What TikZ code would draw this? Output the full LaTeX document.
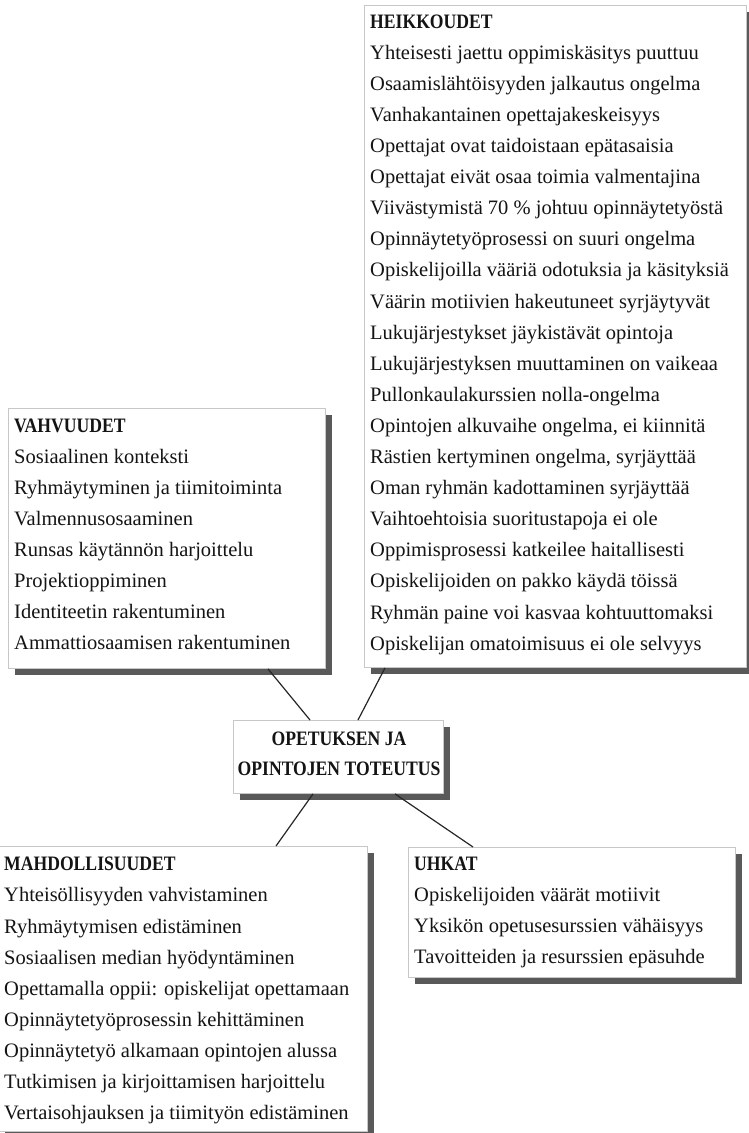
\documentclass[tikz,border=0pt]{standalone}
\usepackage{fontspec}
\setmainfont{Liberation Serif}
\newfontfamily\titlefont[FakeStretch=0.86]{Liberation Serif}
\usetikzlibrary{shadows}
\begin{document}
\begin{tikzpicture}[x=1pt,y=-1pt,
  box/.style={draw=black!22, line width=0.9pt, fill=white, inner sep=0pt, anchor=north west,
    drop shadow={shadow xshift=7pt, shadow yshift=-7pt, fill=black!65, opacity=1}},
  listtext/.style={anchor=north west, inner sep=0pt, align=left, text=black!92,
    font=\fontsize{20.5}{31.1}\selectfont},
  centertext/.style={anchor=north, inner sep=0pt, align=center, text=black!92,
    font=\titlefont\bfseries\fontsize{20.5}{30}\selectfont},
  link/.style={draw=black!85, line width=1.2pt}]
\useasboundingbox (0,0) rectangle (748,1133);

% boxes
\node[box, minimum width=382, minimum height=662] (heikbox) at (364,5) {};
\node[box, minimum width=317, minimum height=260] (vahbox) at (8,408) {};
\node[box, minimum width=210, minimum height=73] (centerbox) at (233,720) {};
\node[box, minimum width=369, minimum height=285] (mahdbox) at (-2,846) {};
\node[box, minimum width=327, minimum height=130] (uhkabox) at (408,847) {};

% texts
\node[listtext] (heiktext) at (370,6.2) {\strut{\titlefont\bfseries HEIKKOUDET}\\
Yhteisesti jaettu oppimiskäsitys puuttuu\\
Osaamislähtöisyyden jalkautus ongelma\\
Vanhakantainen opettajakeskeisyys\\
Opettajat ovat taidoistaan epätasaisia\\
Opettajat eivät osaa toimia valmentajina\\
Viivästymistä 70 \% johtuu opinnäytetyöstä\\
Opinnäytetyöprosessi on suuri ongelma\\
Opiskelijoilla vääriä odotuksia ja käsityksiä\\
Väärin motiivien hakeutuneet syrjäytyvät\\
Lukujärjestykset jäykistävät opintoja\\
Lukujärjestyksen muuttaminen on vaikeaa\\
Pullonkaulakurssien nolla-ongelma\\
Opintojen alkuvaihe ongelma, ei kiinnitä\\
Rästien kertyminen ongelma, syrjäyttää\\
Oman ryhmän kadottaminen syrjäyttää\\
Vaihtoehtoisia suoritustapoja ei ole\\
Oppimisprosessi katkeilee haitallisesti\\
Opiskelijoiden on pakko käydä töissä\\
Ryhmän paine voi kasvaa kohtuuttomaksi\\
Opiskelijan omatoimisuus ei ole selvyys};

\node[listtext] (vahtext) at (14,410.2) {\strut{\titlefont\bfseries VAHVUUDET}\\
Sosiaalinen konteksti\\
Ryhmäytyminen ja tiimitoiminta\\
Valmennusosaaminen\\
Runsas käytännön harjoittelu\\
Projektioppiminen\\
Identiteetin rakentuminen\\
Ammattiosaamisen rakentuminen};

\node[centertext] (centertext) at (339,724) {\strut OPETUKSEN JA\\ OPINTOJEN TOTEUTUS};

\node[listtext] (mahdtext) at (4,848.9) {\strut{\titlefont\bfseries MAHDOLLISUUDET}\\
Yhteisöllisyyden vahvistaminen\\
Ryhmäytymisen edistäminen\\
Sosiaalisen median hyödyntäminen\\
Opettamalla oppii: opiskelijat opettamaan\\
Opinnäytetyöprosessin kehittäminen\\
Opinnäytetyö alkamaan opintojen alussa\\
Tutkimisen ja kirjoittamisen harjoittelu\\
Vertaisohjauksen ja tiimityön edistäminen};

\node[listtext] (uhkatext) at (414,848.2) {\strut{\titlefont\bfseries UHKAT}\\
Opiskelijoiden väärät motiivit\\
Yksikön opetusesurssien vähäisyys\\
Tavoitteiden ja resurssien epäsuhde};

% connectors
\draw[link] ([xshift=260pt]vahbox.south west) -- ([xshift=77pt]centerbox.north west);
\draw[link] ([xshift=21pt]heikbox.south west) -- ([xshift=125pt]centerbox.north west);
\draw[link] ([xshift=80pt]centerbox.south west) -- ([xshift=278pt]mahdbox.north west);
\draw[link] ([xshift=162pt]centerbox.south west) -- ([xshift=65pt]uhkabox.north west);
\end{tikzpicture}
\end{document}
